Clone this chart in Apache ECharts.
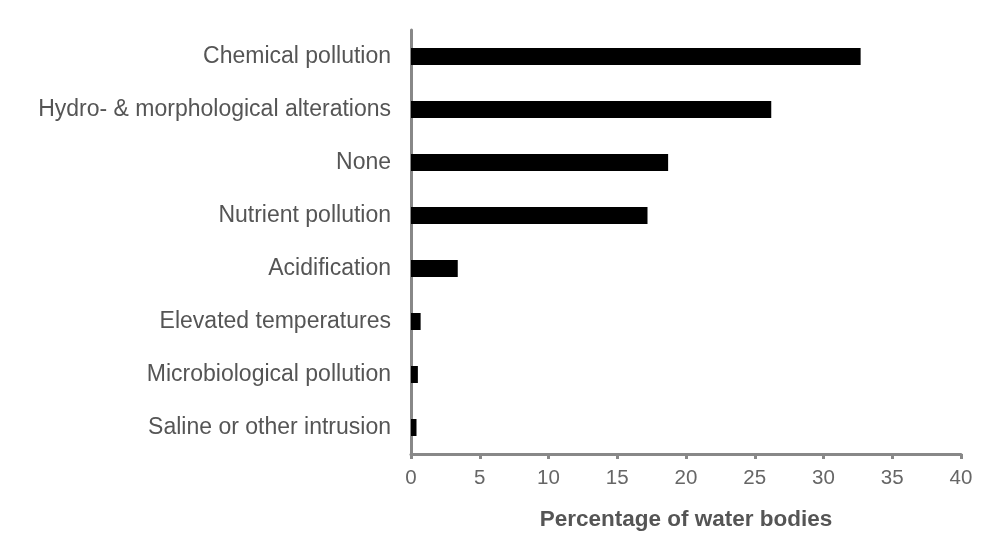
<!DOCTYPE html>
<html>
<head>
<meta charset="utf-8">
<script src="https://cdn.jsdelivr.net/npm/echarts@6/dist/echarts.min.js"></script>
<style>
  html, body { margin: 0; padding: 0; background: #fff; }
  #chart { width: 993px; height: 544px; }
</style>
</head>
<body>
<div id="chart"></div>
<script>
// categories listed top to bottom
const categories = [
  'Chemical pollution',
  'Hydro- & morphological alterations',
  'None',
  'Nutrient pollution',
  'Acidification',
  'Elevated temperatures',
  'Microbiological pollution',
  'Saline or other intrusion'
];
const values = [32.7, 26.2, 18.7, 17.2, 3.4, 0.7, 0.5, 0.4];
const axisName = 'Percentage of water bodies';

const chart = echarts.init(document.getElementById('chart'));
const option = {
  backgroundColor: '#fff',
  animation: false,
  grid: { left: 411, right: 32, top: 30, bottom: 90 },
  xAxis: {
    type: 'value',
    min: 0,
    max: 40,
    interval: 5,
    name: axisName,
    nameLocation: 'middle',
    nameGap: 54,
    nameTextStyle: { fontFamily: 'Liberation Sans', fontSize: 22.5, fontWeight: 'bold', color: '#555' },
    axisLine: { show: true, lineStyle: { color: '#888', width: 3 } },
    axisTick: { show: true, length: 5, lineStyle: { color: '#888', width: 3 } },
    axisLabel: { fontFamily: 'Liberation Sans', fontSize: 20.5, color: '#666', margin: 14 },
    splitLine: { show: false }
  },
  yAxis: {
    type: 'category',
    inverse: true,
    data: categories,
    axisLine: { show: true, lineStyle: { color: '#888', width: 3 } },
    axisTick: { show: false },
    axisLabel: { fontFamily: 'Liberation Sans', fontSize: 23, color: '#555', margin: 20 }
  },
  series: [{
    type: 'bar',
    data: values,
    barWidth: 17,
    itemStyle: { color: '#000' }
  }]
};
chart.setOption(option);
</script>
</body>
</html>
